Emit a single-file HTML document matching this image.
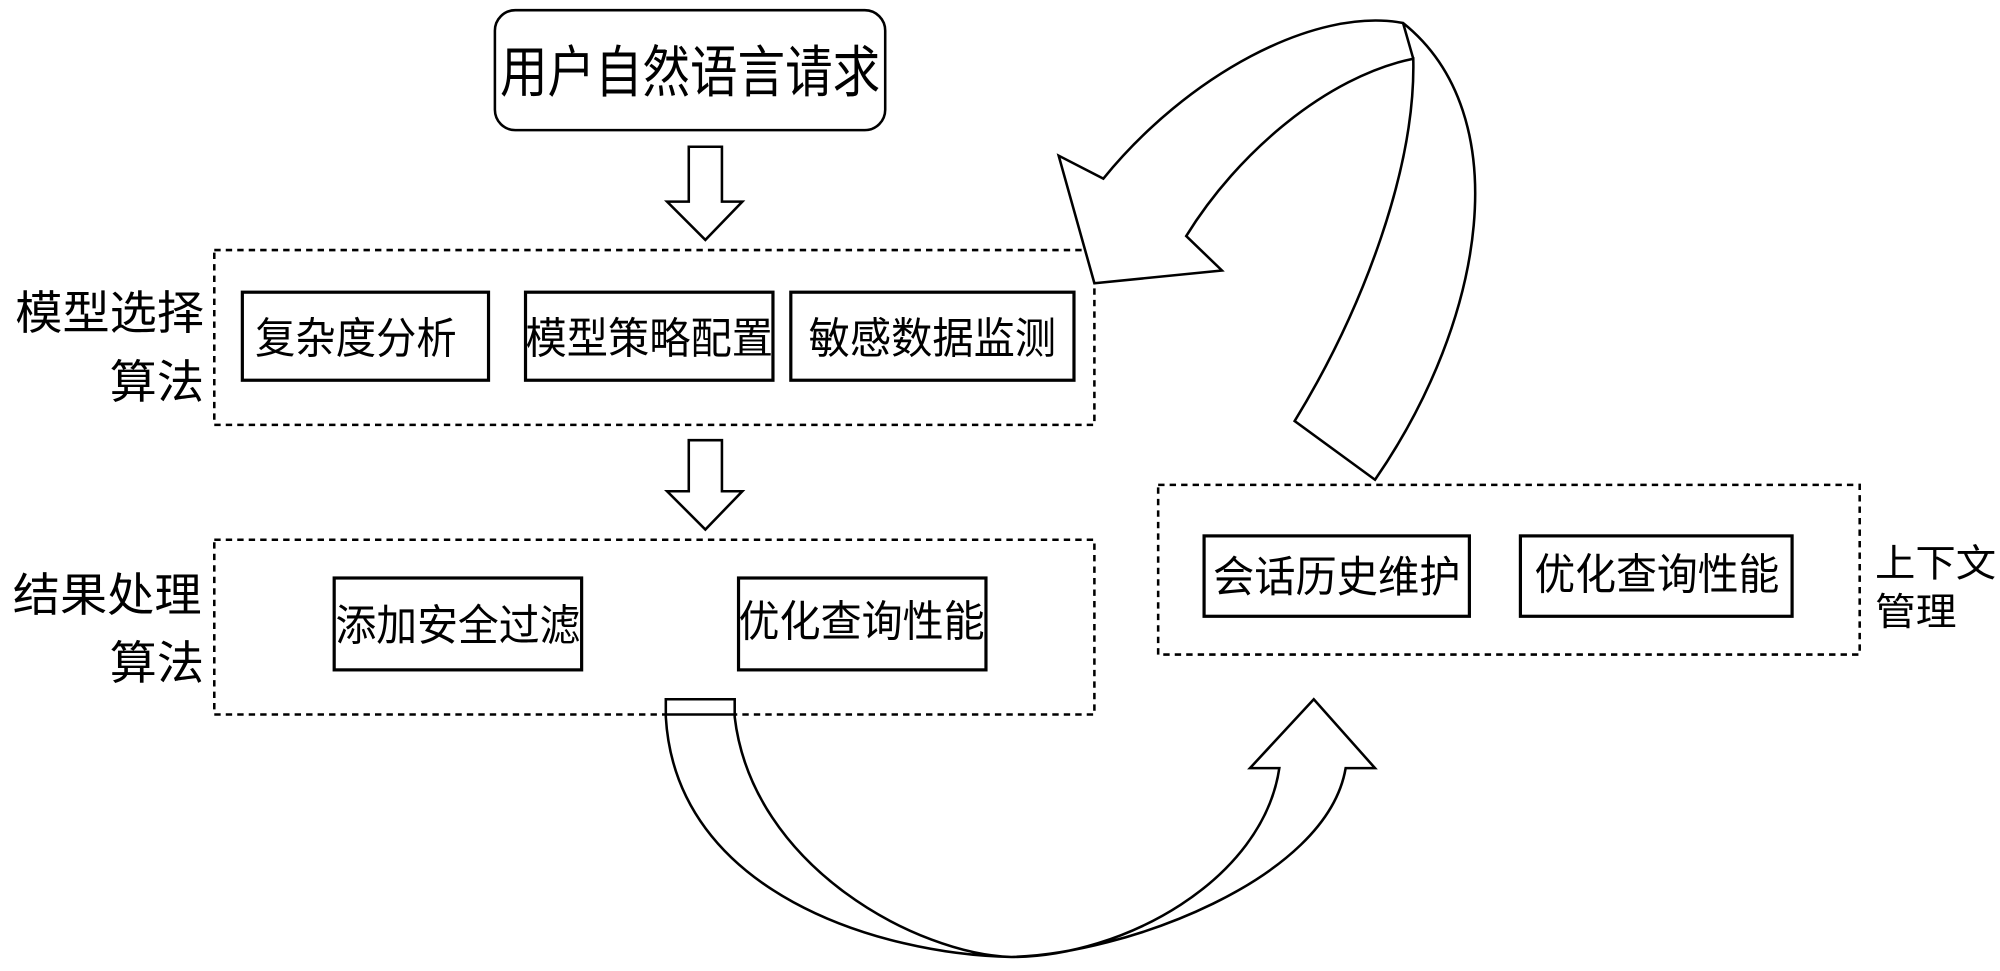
<!DOCTYPE html>
<html><head><meta charset="utf-8"><style>
html,body{margin:0;padding:0;background:#fff;}
svg{display:block;}
text{font-family:"Liberation Sans","Noto Sans CJK SC",sans-serif;fill:#000;}
</style></head><body>
<svg width="2000" height="971" viewBox="0 0 1568 761" preserveAspectRatio="none" xmlns="http://www.w3.org/2000/svg">
<g fill="#fff" stroke="#000" stroke-width="2">
<rect x="388" y="8" width="306" height="94" rx="16"/>
<polygon points="540,115 566,115 566,158 582,158 553,188 523,158 540,158"/>
<polygon points="540,345 566,345 566,385 582,385 553,415 523,385 540,385"/>
</g>
<g fill="none" stroke="#000" stroke-width="2" stroke-dasharray="5,4">
<rect x="168" y="196" width="690" height="137"/>
<rect x="168" y="423" width="690" height="137"/>
<rect x="908" y="380" width="550" height="133"/>
</g>
<g fill="#fff" stroke="#000" stroke-width="2.5">
<rect x="190" y="229" width="193" height="69"/>
<rect x="412" y="229" width="194" height="69"/>
<rect x="620" y="229" width="222" height="69"/>
<rect x="262" y="453" width="194" height="72"/>
<rect x="579" y="453" width="194" height="72"/>
<rect x="944" y="420" width="208" height="63"/>
<rect x="1192" y="420" width="213" height="63"/>
</g>
<g fill="#fff" stroke="#000" stroke-width="2">
<path d="M865,140 C 930,60 1030,5 1100,18 C 1190,90 1165,250 1078,376 L1015,330 C 1070,240 1110,130 1108,46 C 1040,60 970,120 930,185 L958,212 L858,222 L830,122 Z"/>
<line x1="1100" y1="18" x2="1108" y2="46"/>
<path d="M522,548 L576,548 L576,562 C 590,680 720,748 793,750 C 880,748 1040,690 1055,602 L1078,602 L1030,548 L980,602 L1003,602 C 990,690 880,750 793,750 C 690,748 530,700 522,562 Z"/>
<line x1="522" y1="560" x2="576" y2="560"/>
</g>
<text x="392" y="72" font-size="44" textLength="298" lengthAdjust="spacingAndGlyphs">用户自然语言请求</text>
<g font-size="34" lengthAdjust="spacingAndGlyphs">
<text x="200" y="277" textLength="158" lengthAdjust="spacingAndGlyphs">复杂度分析</text>
<text x="412" y="277" textLength="194" lengthAdjust="spacingAndGlyphs">模型策略配置</text>
<text x="634" y="277" textLength="194" lengthAdjust="spacingAndGlyphs">敏感数据监测</text>
<text x="263" y="502" textLength="192" lengthAdjust="spacingAndGlyphs">添加安全过滤</text>
<text x="579" y="499" textLength="193" lengthAdjust="spacingAndGlyphs">优化查询性能</text>
<text x="951" y="464" textLength="194" lengthAdjust="spacingAndGlyphs">会话历史维护</text>
<text x="1203" y="462" textLength="192" lengthAdjust="spacingAndGlyphs">优化查询性能</text>
</g>
<g font-size="36">
<text x="12" y="258" textLength="148" lengthAdjust="spacingAndGlyphs">模型选择</text>
<text x="86" y="312" textLength="74" lengthAdjust="spacingAndGlyphs">算法</text>
<text x="10" y="479" textLength="148" lengthAdjust="spacingAndGlyphs">结果处理</text>
<text x="86" y="532" textLength="74" lengthAdjust="spacingAndGlyphs">算法</text>
</g>
<g font-size="30">
<text x="1470" y="452" textLength="95" lengthAdjust="spacingAndGlyphs">上下文</text>
<text x="1470" y="490" textLength="64" lengthAdjust="spacingAndGlyphs">管理</text>
</g>
</svg>
</body></html>
